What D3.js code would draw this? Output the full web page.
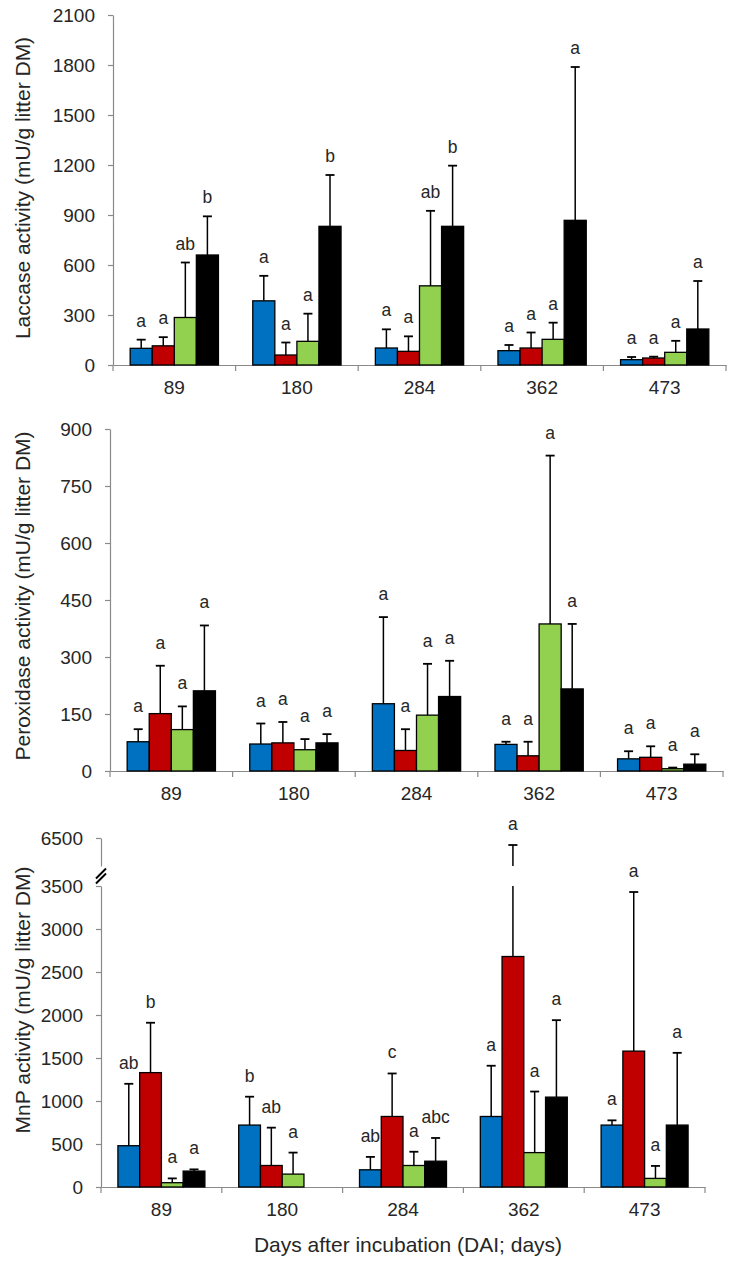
<!DOCTYPE html>
<html>
<head>
<meta charset="utf-8">
<script src="https://cdn.jsdelivr.net/npm/d3@7"></script>
<style>
  html, body { margin: 0; padding: 0; background: #fff; }
  svg { display: block; font-family: "Liberation Sans", Arial, sans-serif; }
</style>
</head>
<body>
<svg id="chart" width="734" height="1266"></svg>
<script>
// ---------------- DATA ----------------
const categories = ["89", "180", "284", "362", "473"];
const seriesNames = ["S1", "S2", "S3", "S4"];
const seriesColors = ["#0070C0", "#C00000", "#92D050", "#000000"];

// Laccase activity (mU/g litter DM): mean and SD, rows = days, cols = series
const laccaseMean = [[100, 115, 285, 660], [385, 60, 142, 832], [102, 82, 475, 832], [86, 102, 154, 868], [32, 42, 76, 216]];
const laccaseSD   = [[52, 52, 330, 232], [150, 75, 166, 308], [112, 90, 450, 364], [34, 93, 100, 920], [16, 8, 69, 288]];
const laccaseLetters = [["a","a","ab","b"], ["a","a","a","b"], ["a","a","ab","b"], ["a","a","a","a"], ["a","a","a","a"]];
const laccaseTicks = [0, 300, 600, 900, 1200, 1500, 1800, 2100];

// Peroxidase activity
const peroxMean = [[77, 151, 109, 211], [71, 74, 56, 74], [177, 54, 147, 196], [70, 40, 387, 216], [32, 36, 6, 18]];
const peroxSD   = [[33, 126, 61, 172], [54, 55, 28, 23], [228, 56, 135, 94], [7, 37, 443, 171], [20, 29, 3, 26]];
const peroxLetters = [["a","a","a","a"], ["a","a","a","a"], ["a","a","a","a"], ["a","a","a","a"], ["a","a","a","a"]];
const peroxTicks = [0, 150, 300, 450, 600, 750, 900];

// MnP activity (broken axis)
const mnpMean = [[480, 1330, 50, 185], [720, 250, 150, null], [200, 820, 250, 300], [820, 2680, 400, 1045], [720, 1580, 100, 720]];
const mnpSD   = [[720, 580, 50, 20], [330, 440, 250, null], [150, 500, 160, 270], [590, 3620, 710, 895], [55, 1850, 145, 840]];
const mnpLetters = [["ab","b","a","a"], ["b","ab","a",""], ["ab","c","a","abc"], ["a","a","a","a"], ["a","a","a","a"]];
const mnpTicksLow = [0, 500, 1000, 1500, 2000, 2500, 3000, 3500];
const mnpTicksHigh = [6500];

const xTitle = "Days after incubation (DAI; days)";

// ---------------- DRAW ----------------
const svg = d3.select("#chart");
const AXIS_COLOR = "#8a8a8a";
const TEXT_COLOR = "#262626";
const fmt = d3.format("d");

function drawPanel(p) {
  const g = svg.append("g");
  const x = d3.scaleBand().domain(categories).range([p.left, p.right]).padding(0);
  const bw = x.bandwidth();
  const xs = d3.scaleBand().domain(seriesNames).range([bw * 0.14, bw * 0.86]).padding(0);

  const yFn = p.yFn;
  const y0 = yFn(0);

  // Y axis (one or two segments)
  p.axes.forEach(a => {
    const ax = g.append("g")
      .attr("transform", `translate(${p.left},0)`)
      .call(d3.axisLeft(a.scale).tickValues(a.ticks).tickFormat(fmt).tickSize(5).tickSizeOuter(0).tickPadding(13));
    ax.selectAll("path.domain").attr("stroke", AXIS_COLOR).attr("stroke-width", 1.2);
    ax.selectAll(".tick line").attr("stroke", AXIS_COLOR).attr("stroke-width", 1.2);
    ax.selectAll(".tick text").attr("fill", TEXT_COLOR).style("font-size", "19px");
  });

  // X axis
  const xa = g.append("g").attr("transform", `translate(0,${y0})`)
    .call(d3.axisBottom(x).tickSize(0).tickPadding(16).tickSizeOuter(0));
  xa.select("path.domain").attr("stroke", AXIS_COLOR).attr("stroke-width", 1.2);
  xa.selectAll(".tick text").attr("fill", TEXT_COLOR).style("font-size", "19px");
  const bounds = categories.map(c => x(c)).concat([x(categories[categories.length - 1]) + bw]);
  g.selectAll("line.bt").data(bounds).enter().append("line")
    .attr("x1", d => d).attr("x2", d => d)
    .attr("y1", y0).attr("y2", y0 + 6)
    .attr("stroke", AXIS_COLOR).attr("stroke-width", 1.2);

  // Bars
  const flat = [];
  categories.forEach((c, i) => {
    seriesNames.forEach((s, j) => {
      flat.push({ c, s, j, mean: p.mean[i][j], sd: p.sd[i][j], letter: p.letters[i][j] });
    });
  });
  const items = flat.filter(d => d.mean !== null);

  g.selectAll("rect.bar").data(items).enter().append("rect")
    .attr("x", d => x(d.c) + xs(d.s))
    .attr("width", xs.bandwidth())
    .attr("y", d => yFn(d.mean))
    .attr("height", d => y0 - yFn(d.mean))
    .attr("fill", d => seriesColors[d.j])
    .attr("stroke", "#000").attr("stroke-width", 1.3);

  // Error bars
  const cap = 4.5;
  items.forEach(d => {
    const cx = x(d.c) + xs(d.s) + xs.bandwidth() / 2;
    const top = d.mean + d.sd;
    const segs = p.errSegments(d.mean, top);
    segs.forEach(sg => {
      g.append("line").attr("x1", cx).attr("x2", cx).attr("y1", sg[0]).attr("y2", sg[1])
        .attr("stroke", "#000").attr("stroke-width", 1.5);
    });
    const yt = yFn(top);
    g.append("line").attr("x1", cx - cap).attr("x2", cx + cap).attr("y1", yt).attr("y2", yt)
      .attr("stroke", "#000").attr("stroke-width", 1.8);
    if (d.letter) {
      g.append("text").attr("x", cx).attr("y", yt - p.letterGap)
        .attr("text-anchor", "middle").attr("fill", TEXT_COLOR)
        .style("font-size", "17.5px").text(d.letter);
    }
  });

  // Y title
  g.append("text")
    .attr("transform", `translate(30,${p.titleY}) rotate(-90)`)
    .attr("text-anchor", "middle").attr("fill", TEXT_COLOR)
    .style("font-size", "21px").text(p.title);

  return g;
}

// Panel 1: Laccase
const yLac = d3.scaleLinear().domain([0, 2100]).range([365, 15]);
drawPanel({
  left: 113, right: 726, yFn: yLac,
  axes: [{ scale: yLac, ticks: laccaseTicks }],
  mean: laccaseMean, sd: laccaseSD, letters: laccaseLetters,
  errSegments: (m, t) => [[yLac(m), yLac(t)]],
  letterGap: 13,
  title: "Laccase activity (mU/g litter DM)", titleY: 188
});

// Panel 2: Peroxidase
const yPer = d3.scaleLinear().domain([0, 900]).range([771, 429]);
drawPanel({
  left: 110, right: 723, yFn: yPer,
  axes: [{ scale: yPer, ticks: peroxTicks }],
  mean: peroxMean, sd: peroxSD, letters: peroxLetters,
  errSegments: (m, t) => [[yPer(m), yPer(t)]],
  letterGap: 17,
  title: "Peroxidase activity (mU/g litter DM)", titleY: 596
});

// Panel 3: MnP with broken axis
const yLow = d3.scaleLinear().domain([0, 3500]).range([1187, 886]);
const yHigh = d3.scaleLinear().domain([5700, 6500]).range([866, 838]);
const yMnp = v => (v <= 3500 ? yLow(v) : yHigh(v));
const g3 = drawPanel({
  left: 101, right: 705, yFn: yMnp,
  axes: [{ scale: yLow, ticks: mnpTicksLow }, { scale: yHigh, ticks: mnpTicksHigh }],
  mean: mnpMean, sd: mnpSD, letters: mnpLetters,
  errSegments: (m, t) => (t <= 3500 ? [[yLow(m), yLow(t)]] : [[yLow(m), yLow(3500)], [yHigh(yHigh.domain()[0]), yHigh(t)]]),
  letterGap: 15,
  title: "MnP activity (mU/g litter DM)", titleY: 1000
});
// axis break marks
const bx = 101, by = (yLow(3500) + yHigh(yHigh.domain()[0])) / 2;
[-2.5, 2.5].forEach(o => {
  g3.append("line").attr("x1", bx - 5).attr("y1", by + o + 5).attr("x2", bx + 5).attr("y2", by + o - 5)
    .attr("stroke", "#000").attr("stroke-width", 2);
});

// X title
svg.append("text").attr("x", 408).attr("y", 1252).attr("text-anchor", "middle")
  .attr("fill", TEXT_COLOR).style("font-size", "21px").text(xTitle);
</script>
</body>
</html>
